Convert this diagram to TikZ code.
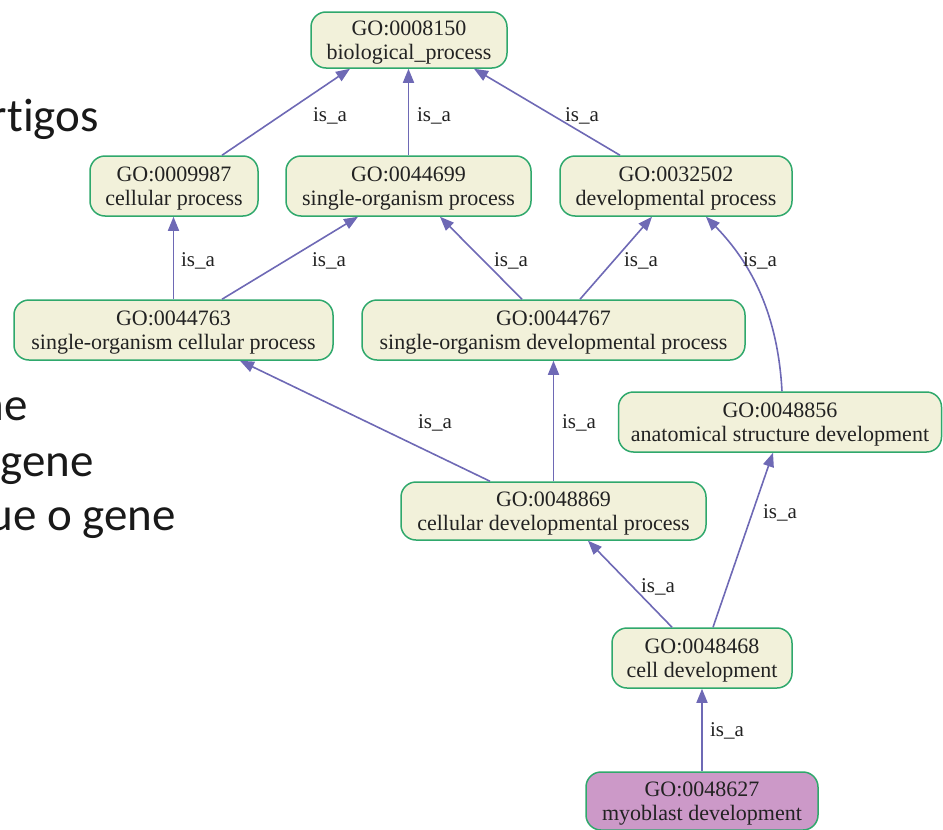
\documentclass[tikz,border=0pt]{standalone}
\usepackage{fontspec}
\setmainfont{Liberation Serif}
\newfontfamily\slidefont[Ligatures=NoCommon]{Carlito}
\usetikzlibrary{arrows.meta,calc}
\definecolor{gofill}{HTML}{F2F1DA}
\definecolor{goborder}{HTML}{2FA86C}
\definecolor{goedge}{HTML}{6E69B5}
\definecolor{gopurple}{HTML}{CC99C8}
\definecolor{gotext}{HTML}{222222}
\newcommand\gotop{\rule{0pt}{20pt}}
\tikzset{
  gonode/.style={draw=goborder, fill=gofill, line width=1.5pt, rounded corners=15pt,
    inner sep=0pt, align=center, text=gotext,
    font=\fontsize{22}{24}\selectfont},
  isa/.style={draw=goedge, line width=1.6pt, -{Triangle[length=14pt,width=11pt]}},
  lbl/.style={inner sep=0pt, anchor=base, text=gotext, font=\fontsize{21}{24}\selectfont},
  slide/.style={inner sep=0pt, anchor=base east, text=black!90, font=\slidefont\fontsize{47}{55}\selectfont}
}
\begin{document}
\begin{tikzpicture}[x=1pt,y=-1pt]
\useasboundingbox (0,0) rectangle (943,830);
\begin{scope}
\clip (0,0) rectangle (943,830);
\node[slide] (s1) at (99,131) {rt\kern0pt igos};
\node[slide] (s2) at (28,420) {ne};
\node[slide] (s3) at (94,476) {gene};
\node[slide] (s4) at (176,530) {ue o gene};
\end{scope}

\node[gonode, minimum width=196pt, minimum height=56pt] (n1) at (409,40) {\gotop GO:0008150\\biological\_process};
\node[gonode, minimum width=168pt, minimum height=60pt] (n2) at (174,186) {\gotop GO:0009987\\cellular process};
\node[gonode, minimum width=245pt, minimum height=60pt] (n3) at (408.5,186) {\gotop GO:0044699\\single-organism process};
\node[gonode, minimum width=232pt, minimum height=60pt] (n4) at (676,186) {\gotop GO:0032502\\developmental process};
\node[gonode, minimum width=319pt, minimum height=60pt] (n5) at (173.5,330) {\gotop GO:0044763\\single-organism cellular process};
\node[gonode, minimum width=383pt, minimum height=60pt] (n6) at (553.5,330) {\gotop GO:0044767\\single-organism developmental process};
\node[gonode, minimum width=323pt, minimum height=60pt] (n7) at (780,422) {\gotop GO:0048856\\anatomical structure development};
\node[gonode, minimum width=305pt, minimum height=58pt] (n8) at (553.5,511) {\gotop GO:0048869\\cellular developmental process};
\node[gonode, minimum width=180pt, minimum height=60pt] (n9) at (702,658) {\gotop GO:0048468\\cell development};
\node[gonode, fill=gopurple, minimum width=232pt, minimum height=58pt] (n10) at (702,801) {\gotop GO:0048627\\myoblast development};

\draw[isa] ([xshift=48pt]n2.north) -- ([xshift=-59pt]n1.south);
\draw[isa] (n3.north) -- (n3.north |- n1.south);
\draw[isa] ([xshift=-56pt]n4.north) -- ([xshift=65pt]n1.south);
\draw[isa] (n5.north) -- (n5.north |- n2.south);
\draw[isa] ([xshift=48.5pt]n5.north) -- ([xshift=-50.5pt]n3.south);
\draw[isa] ([xshift=-31.5pt]n6.north) -- ([xshift=31.5pt]n3.south);
\draw[isa] ([xshift=26.5pt]n6.north) -- ([xshift=-24pt]n4.south);
\draw[isa] ([xshift=2pt]n7.north) .. controls (778,318) and (754,266) .. ([xshift=30pt]n4.south);
\draw[isa] ([xshift=-63.5pt]n8.north) -- ([xshift=66.5pt]n5.south);
\draw[isa] (n8.north) -- (n8.north |- n6.south);
\draw[isa] ([xshift=-30pt]n9.north) -- ([xshift=34.5pt]n8.south);
\draw[isa] ([xshift=11pt]n9.north) -- ([xshift=-7pt]n7.south);
\draw[isa] (n10.north) -- (n10.north |- n9.south);

\node[lbl] (l1) at (330,121) {is\_a};
\node[lbl] (l2) at (434,121) {is\_a};
\node[lbl] (l3) at (582,121) {is\_a};
\node[lbl] (l4) at (198,266) {is\_a};
\node[lbl] (l5) at (329,266) {is\_a};
\node[lbl] (l6) at (511,266) {is\_a};
\node[lbl] (l7) at (641,266) {is\_a};
\node[lbl] (l8) at (760,266) {is\_a};
\node[lbl] (l9) at (435,428) {is\_a};
\node[lbl] (l10) at (579,428) {is\_a};
\node[lbl] (l11) at (658,592) {is\_a};
\node[lbl] (l12) at (780,518) {is\_a};
\node[lbl] (l13) at (727,736) {is\_a};
\end{tikzpicture}
\end{document}
